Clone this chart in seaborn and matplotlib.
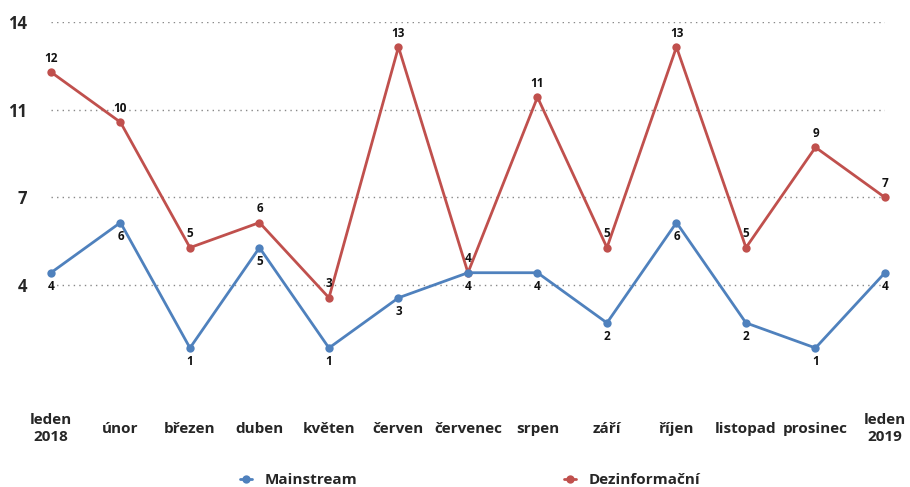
import numpy as np
import pandas as pd
import matplotlib
matplotlib.use("Agg")
import matplotlib.pyplot as plt
import seaborn as sns

months = ["leden\n2018", "únor", "březen", "duben", "květen", "červen", "červenec",
          "srpen", "září", "říjen", "listopad", "prosinec", "leden\n2019"]
mainstream = [4, 6, 1, 5, 1, 3, 4, 4, 2, 6, 2, 1, 4]
dezinfo = [12, 10, 5, 6, 3, 13, 4, 11, 5, 13, 5, 9, 7]
ytick_vals = [3.5, 7, 10.5, 14]
ytick_labels = ["4", "7", "11", "14"]

blue = "#4F81BD"
red = "#C0504D"

sns.set_style("white")
plt.rcParams['font.family'] = ['Open Sans', 'DejaVu Sans']
plt.rcParams['font.weight'] = 'bold'

idx = np.arange(len(months))
df = pd.DataFrame({"idx": idx, "Mainstream": mainstream, "Dezinformační": dezinfo})

fig = plt.figure(figsize=(9.1, 4.87), dpi=100)
ax = fig.add_axes([0.056, 0.234, 0.9165, 0.721])

# red first so the blue line sits on top
sns.lineplot(data=df, x="idx", y="Dezinformační", color=red, marker="o", markersize=6,
             markeredgewidth=0, linewidth=2, ax=ax, label="Dezinformační", clip_on=False)
sns.lineplot(data=df, x="idx", y="Mainstream", color=blue, marker="o", markersize=6,
             markeredgewidth=0, linewidth=2, ax=ax, label="Mainstream", clip_on=False)

for i in idx:
    ax.annotate(str(dezinfo[i]), (i, dezinfo[i]), xytext=(0, 10), textcoords="offset points",
                ha="center", va="center", fontsize=8.5, fontweight="bold", color="#111111")
    ax.annotate(str(mainstream[i]), (i, mainstream[i]), xytext=(0, -10), textcoords="offset points",
                ha="center", va="center", fontsize=8.5, fontweight="bold", color="#111111")

ax.set_xlim(0, len(months) - 1)
ax.set_ylim(0, 14)
ax.set_yticks(ytick_vals)
ax.set_yticklabels(ytick_labels, fontsize=12, fontweight="bold")
ax.set_xticks(idx)
ax.set_xticklabels(months, fontsize=11, fontweight="bold", linespacing=1.3)
for lab in ax.get_xticklabels():
    lab.set_va("center")
ax.tick_params(axis="x", length=0, pad=40)
ax.tick_params(axis="y", length=0, pad=17)
ax.set_xlabel("")
ax.set_ylabel("")
ax.grid(axis="y", linestyle=(0, (1, 3)), color="#888888", linewidth=1)
ax.grid(axis="x", visible=False)
for s in ax.spines.values():
    s.set_visible(False)

handles, labels = ax.get_legend_handles_labels()
ax.legend(handles[::-1], labels[::-1], loc="lower center", bbox_to_anchor=(0.5165, -0.028),
          bbox_transform=fig.transFigure, ncol=2, frameon=False,
          handlelength=0.8, handletextpad=0.8, columnspacing=13.5,
          prop={"weight": "bold", "size": 11})

fig.savefig("out.png", dpi=100)
